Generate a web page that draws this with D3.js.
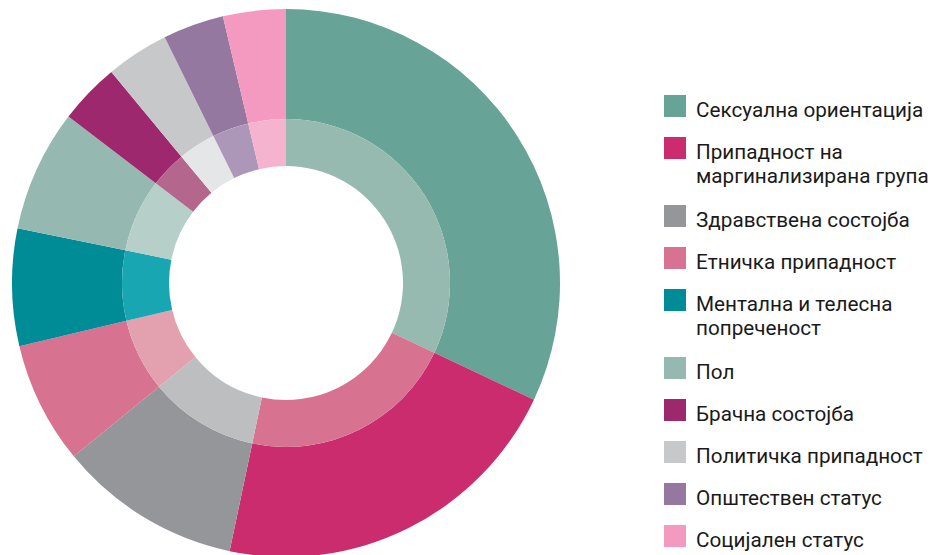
<!DOCTYPE html>
<head>
  <meta charset="utf-8">
  <script src="https://d3js.org/d3.v7.min.js"></script>
  <style>
    body { margin:0; background:#fff; }
    text { font-family: Roboto, "Open Sans", sans-serif; fill:#1a1a1a; }
  </style>
</head>

<body>
  <script>
    var width = 932,
        height = 555;

    // categories, shares (%) and colours
    var categories = [
      ["Сексуална ориентација"],
      ["Припадност на", "маргинализирана група"],
      ["Здравствена состојба"],
      ["Етничка припадност"],
      ["Ментална и телесна", "попреченост"],
      ["Пол"],
      ["Брачна состојба"],
      ["Политичка припадност"],
      ["Општествен статус"],
      ["Социјален статус"]
    ];
    var values = [32.0, 21.3, 10.8, 7.2, 6.9, 7.2, 3.6, 3.7, 3.6, 3.7];
    var outerColors = ["#67a397", "#cb2c6e", "#959699", "#d77290", "#008c96",
                       "#95b9b0", "#9d286e", "#c7c8ca", "#95789f", "#f49ac1"];
    var innerColors = ["#96b9b0", "#d77290", "#bdbec0", "#e3a0ae", "#18a6b2",
                       "#b7cfc9", "#b4668d", "#e5e6e7", "#ad97b9", "#f6b3cf"];

    var svg = d3.select("body").append("svg")
      .attr("width", width)
      .attr("height", height);

    var cx = 286, cy = 283;

    var pie = d3.pie().sort(null).value(function(d) { return d; });
    var arcs = pie(values);

    var outerArc = d3.arc().innerRadius(164).outerRadius(274);
    var innerArc = d3.arc().innerRadius(117).outerRadius(164);

    var g = svg.append("g")
      .attr("transform", "translate(" + cx + "," + cy + ")");

    g.selectAll(".outer")
      .data(arcs)
      .enter()
      .append("path")
      .attr("class", "outer")
      .attr("d", outerArc)
      .attr("fill", function(d, i) { return outerColors[i]; });

    g.selectAll(".inner")
      .data(arcs)
      .enter()
      .append("path")
      .attr("class", "inner")
      .attr("d", innerArc)
      .attr("fill", function(d, i) { return innerColors[i]; });

    // legend
    var legend = svg.append("g");
    var y = 95;
    categories.forEach(function(lines, i) {
      var row = legend.append("g").attr("transform", "translate(664," + y + ")");
      row.append("rect")
        .attr("width", 22)
        .attr("height", 22)
        .attr("fill", outerColors[i]);
      var t = row.append("text")
        .attr("x", 32)
        .attr("y", 22)
        .style("font-size", "20.7px");
      lines.forEach(function(l, j) {
        t.append("tspan").attr("x", 32).attr("dy", j ? 24 : 0).text(l);
      });
      y += 42 + (lines.length - 1) * 26;
    });
  </script>
</body>
